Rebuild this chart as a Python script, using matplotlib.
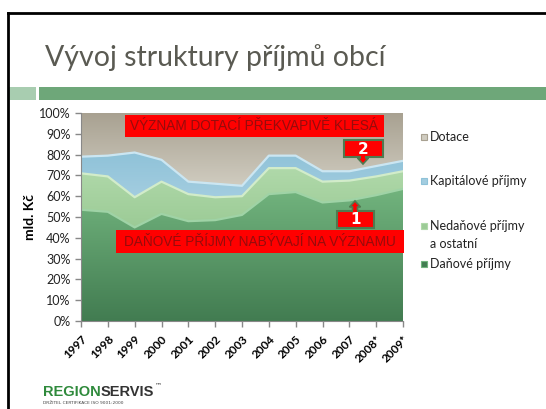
import numpy as np
import matplotlib
matplotlib.use('Agg')
import matplotlib.pyplot as plt
from matplotlib.patches import Polygon, Rectangle, FancyArrow
from matplotlib.colors import LinearSegmentedColormap

years = ['1997', '1998', '1999', '2000', '2001', '2002', '2003', '2004',
         '2005', '2006', '2007', '2008*', '2009*']
danove = [53.5, 52.5, 45, 51.5, 48, 48.5, 51, 61, 62, 57, 58, 60.5, 63.5]
nedanove = [17.5, 17, 14.5, 15.5, 13, 11, 9, 12.5, 11.5, 10, 9.5, 9, 8.5]
kapitalove = [8, 10, 21.5, 10.5, 6, 6.5, 5, 6, 6, 5, 4.5, 5, 5]
dotace = [21, 20.5, 19, 22.5, 33, 34, 35, 20.5, 20.5, 28, 28, 25.5, 23]
series_names = ['Daňové příjmy', 'Nedaňové příjmy\na ostatní', 'Kapitálové příjmy', 'Dotace']
yticks = [0, 10, 20, 30, 40, 50, 60, 70, 80, 90, 100]

W, H = 546, 409
fig = plt.figure(figsize=(W / 100, H / 100), dpi=100)
fig.patch.set_facecolor('white')

def fx(px):
    return px / W

def fy(py):
    return 1 - py / H

ax = fig.add_axes([fx(81), fy(321), fx(403) - fx(81), fy(113) - fy(321)])
ax.set_facecolor('none')

x = np.arange(len(years))
data = [np.array(danove), np.array(nedanove), np.array(kapitalove), np.array(dotace)]
tot = sum(data)
data = [d / tot * 100 for d in data]

styles = [
    ('#72b47e', '#427c51', '#9fd3a6'),
    ('#b0d9aa', '#9ccb96', '#d2ecca'),
    ('#8fc2d8', '#a3cde0', '#cbe6f2'),
    ('#a8a191', '#d0ccc0', '#c9c4b6'),
]

lo = np.zeros(len(x))
for d, (ctop, cbot, edge) in zip(data, styles):
    hi = lo + d
    verts = list(zip(x, hi)) + list(zip(x[::-1], lo[::-1]))
    poly = Polygon(verts, closed=True, facecolor='none', edgecolor='none')
    ax.add_patch(poly)
    cmap = LinearSegmentedColormap.from_list('g', [cbot, ctop])
    grad = np.linspace(0, 1, 256).reshape(-1, 1)
    im = ax.imshow(grad, cmap=cmap, aspect='auto',
                   extent=[0, len(x) - 1, lo.min(), hi.max()],
                   origin='lower', zorder=1, interpolation='bilinear')
    im.set_clip_path(poly)
    if hi.max() < 99.9:
        ax.plot(x, hi, color=edge, lw=1.6, zorder=2, solid_joinstyle='round')
    lo = hi

ax.set_xlim(0, len(x) - 1)
ax.set_ylim(0, 100)
ax.set_yticks(yticks)
ax.set_yticklabels([f'{t}%' for t in yticks], fontsize=9, family='Lato', color='#222222')
ax.set_xticks(x)
ax.set_xticklabels(years, rotation=45, ha='right', rotation_mode='anchor',
                   fontsize=8.5, fontweight='bold', family='Lato')
ax.tick_params(axis='both', length=4, color='#888888', width=1, direction='out')
ax.tick_params(axis='x', pad=5)
for s in ['top', 'right']:
    ax.spines[s].set_visible(False)
ax.spines['left'].set_color('#888888')
ax.spines['bottom'].set_color('#888888')
ax.set_ylabel('mld. Kč', fontsize=10, fontweight='bold', family='Lato', labelpad=2)

# overlay
ov = fig.add_axes([0, 0, 1, 1], zorder=5)
ov.set_xlim(0, W)
ov.set_ylim(H, 0)
ov.axis('off')

# frame
ov.plot([7.5, 7.5], [H, 12.5], color='black', lw=2)
ov.plot([7.5, W], [12.5, 12.5], color='black', lw=2)

# title
ov.text(45, 66, 'Vývoj struktury příjmů obcí', fontsize=20.5, family='Lato',
        color='#5a5a52', va='baseline', ha='left')
# green bars
ov.add_patch(Rectangle((8, 87), 28, 13, facecolor='#a8cdb0', edgecolor='none'))
ov.add_patch(Rectangle((39, 87), W - 39, 13, facecolor='#6ea779', edgecolor='none'))

# red banners
def banner(x0, y0, x1, y1, txt):
    ov.add_patch(Rectangle((x0, y0), x1 - x0, y1 - y0, facecolor='#ff0000', edgecolor='none'))
    ov.text((x0 + x1) / 2, (y0 + y1) / 2 + 0.5, txt, ha='center', va='center',
            fontsize=9.8, family='Liberation Sans', color='#960c0c')

banner(125, 115, 384, 137, 'VÝZNAM DOTACÍ PŘEKVAPIVĚ KLESÁ')
banner(116, 230, 404, 253, 'DAŇOVÉ PŘÍJMY NABÝVAJÍ NA VÝZNAMU')

# numbered callouts
def callout(x0, y0, x1, y1, tipx, tipy, label, down):
    basey = y1 if down else y0
    dy = tipy - basey
    ov.add_patch(FancyArrow(tipx, basey, 0, dy, width=5, head_width=11,
                            head_length=6, length_includes_head=True,
                            facecolor='#ff0000', edgecolor='#4f7a50', lw=1.2))
    ov.add_patch(Rectangle((x0, y0), x1 - x0, y1 - y0, facecolor='#ff0000',
                           edgecolor='#4f7a50', lw=1.5))
    ov.add_patch(Rectangle((tipx - 2, basey - 1.5), 4, 3, facecolor='#ff0000', edgecolor='none'))
    ov.text((x0 + x1) / 2, (y0 + y1) / 2 + 0.5, label, ha='center', va='center',
            fontsize=11, fontweight='bold', color='white', family='DejaVu Sans')

callout(344, 140, 383, 157, 363, 164, '2', True)
callout(337, 211, 374, 228, 355, 201, '1', False)

# legend
leg_y = [137, 181, 226, 264]
leg_order = [3, 2, 1, 0]
for yy, i in zip(leg_y, leg_order):
    ctop, cbot, edge = styles[i]
    ov.add_patch(Rectangle((421, yy - 3), 6, 6, facecolor=cbot, edgecolor=ctop, lw=0.8))
    name = series_names[i]
    lines = name.split('\n')
    for k, ln in enumerate(lines):
        ov.text(430, yy + 18 * k, ln, fontsize=9, family='Lato', color='#222222',
                va='center', ha='left')

# logo
logo_font = 'Liberation Sans'
t1 = ov.text(43, 396, 'REGION', fontsize=10.5, fontweight='bold', family=logo_font,
             color='#2f8a3c', va='baseline', ha='left')
fig.canvas.draw()
bb = t1.get_window_extent()
x_end = ov.transData.inverted().transform((bb.x1, bb.y0))[0]
t2 = ov.text(x_end, 396, 'SERVIS', fontsize=10.5, fontweight='bold', family=logo_font,
             color='#333333', va='baseline', ha='left')
fig.canvas.draw()
bb2 = t2.get_window_extent()
x_end2 = ov.transData.inverted().transform((bb2.x1, bb2.y0))[0]
ov.text(x_end2 + 1, 385, '™', fontsize=5, color='#333333', ha='left', va='center')
ov.text(43, 403, 'DRŽITEL CERTIFIKACE ISO 9001:2000', fontsize=3.2, color='#444444',
        ha='left', va='center', family='DejaVu Sans')

fig.savefig('out.png', dpi=100)
